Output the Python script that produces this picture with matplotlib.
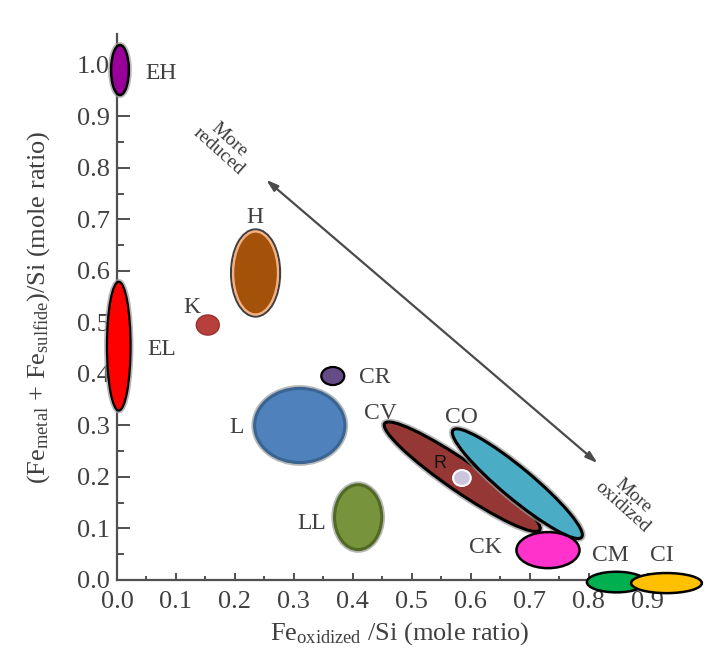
import matplotlib
matplotlib.use("Agg")
import numpy as np
import matplotlib.pyplot as plt
from matplotlib.patches import Ellipse
from matplotlib.transforms import Affine2D
import matplotlib.patheffects as pe

plt.rcParams['font.family'] = ['Liberation Serif', 'DejaVu Serif']
plt.rcParams['mathtext.fontset'] = 'custom'
plt.rcParams['mathtext.rm'] = 'Liberation Serif'
plt.rcParams['mathtext.it'] = 'Liberation Serif:italic'

TEXT = '#404040'
AXIS = '#505050'

# Chondrite groups drawn as axis-aligned ellipses:
# centre x, centre y, width (x units), height (y units)
aligned_names = ['EH', 'EL', 'K', 'H', 'CR', 'L', 'LL', 'CK', 'CM', 'CI', 'R']
aligned_cx = [0.005, 0.003, 0.154, 0.235, 0.366, 0.310, 0.409, 0.731, 0.847, 0.932, 0.585]
aligned_cy = [0.990, 0.454, 0.495, 0.596, 0.396, 0.300, 0.122, 0.058, -0.004, -0.006, 0.198]
aligned_w = [0.030, 0.040, 0.039, 0.076, 0.039, 0.153, 0.080, 0.107, 0.100, 0.120, 0.030]
aligned_h = [0.097, 0.250, 0.039, 0.161, 0.035, 0.144, 0.126, 0.070, 0.040, 0.039, 0.031]

# Elongated groups: end points of the long axis and thickness (x units)
tilted_names = ['CV', 'CO']
tilted_x1 = [0.454, 0.570]
tilted_y1 = [0.304, 0.291]
tilted_x2 = [0.717, 0.788]
tilted_y2 = [0.097, 0.083]
tilted_t = [0.052, 0.052]

styles = {
    'EH': dict(fc='#990099', ec='black', lw=1.8, halo=True),
    'EL': dict(fc='#FF0000', ec='black', lw=1.6, halo=True),
    'K':  dict(fc='#B8403C', ec='#9A3030', lw=1.0, halo=False),
    'H':  dict(fc='#A4520A', ec='#F4B183', lw=1.6, halo=True),
    'CR': dict(fc='#654C86', ec='black', lw=1.6, halo=False),
    'L':  dict(fc='#4F81BD', ec='#3A6593', lw=2.2, halo=True),
    'LL': dict(fc='#77933C', ec='#506A26', lw=2.2, halo=True),
    'CV': dict(fc='#953735', ec='black', lw=2.2, halo=True),
    'CO': dict(fc='#4BACC6', ec='black', lw=2.2, halo=True),
    'CK': dict(fc='#FF33CC', ec='black', lw=1.8, halo=False),
    'CM': dict(fc='#00B050', ec='black', lw=1.8, halo=False),
    'CI': dict(fc='#FFC000', ec='black', lw=1.8, halo=False),
    'R':  dict(fc='#CDC4DD', ec='white', lw=1.5, halo=False),
}
zorders = {'CV': 3, 'CO': 4, 'R': 6, 'CK': 5, 'CM': 3, 'CI': 4}

# Group labels
label_names = ['EH', 'EL', 'K', 'H', 'CR', 'L', 'LL', 'CV', 'CO', 'CK', 'CM', 'CI']
label_x = [0.075, 0.076, 0.127, 0.234, 0.437, 0.203, 0.330, 0.446, 0.585, 0.624, 0.836, 0.924]
label_y = [0.983, 0.447, 0.530, 0.703, 0.394, 0.297, 0.110, 0.324, 0.315, 0.064, 0.048, 0.048]

x_ticks = [0.0, 0.1, 0.2, 0.3, 0.4, 0.5, 0.6, 0.7, 0.8, 0.9]
y_ticks = [0.0, 0.1, 0.2, 0.3, 0.4, 0.5, 0.6, 0.7, 0.8, 0.9, 1.0]

# Redox trend arrow (reduced end, oxidized end)
arrow_start = (0.253, 0.777)
arrow_end = (0.815, 0.227)

fig = plt.figure(figsize=(7.1, 6.68), dpi=100)
ax = fig.add_axes([117 / 710, 88 / 668, 566 / 710, 546 / 668])
ax.set_xlim(0, 0.96)
ax.set_ylim(0, 1.06)

# ratio of pixels per y unit to pixels per x unit, so shapes can be built
# in a space where both directions share the same scale
bb = ax.get_position()
px_x = bb.width * fig.get_figwidth() / 0.96
px_y = bb.height * fig.get_figheight() / 1.06
r = px_y / px_x
to_data = Affine2D().scale(1, 1 / r) + ax.transData


def draw(ell, st, z):
    ell.set_transform(to_data)
    ell.set_facecolor(st['fc'])
    ell.set_edgecolor(st['ec'])
    ell.set_linewidth(st['lw'])
    ell.set_zorder(z)
    ell.set_clip_on(False)
    if st['halo']:
        ell.set_path_effects([pe.withStroke(linewidth=st['lw'] + 2.5, foreground='#9a9a9a', alpha=0.7)])
    if st['ec'] == '#F4B183':
        ell.set_path_effects([pe.withStroke(linewidth=st['lw'] + 3.0, foreground='#404040'), pe.Normal()])
    ax.add_patch(ell)


for n, cx, cy, w, h in zip(aligned_names, aligned_cx, aligned_cy, aligned_w, aligned_h):
    e = Ellipse((cx, cy * r), w, h * r)
    draw(e, styles[n], zorders.get(n, 3))

for n, x1, y1, x2, y2, t in zip(tilted_names, tilted_x1, tilted_y1, tilted_x2, tilted_y2, tilted_t):
    v1, v2 = y1 * r, y2 * r
    length = np.hypot(x2 - x1, v2 - v1)
    ang = np.degrees(np.arctan2(v2 - v1, x2 - x1))
    e = Ellipse(((x1 + x2) / 2, (v1 + v2) / 2), length, t, angle=ang)
    draw(e, styles[n], zorders.get(n, 3))

for n, x, y in zip(label_names, label_x, label_y):
    ax.text(x, y, n, fontsize=17, color=TEXT, ha='center', va='center', zorder=7)

ax.text(0.547, 0.227, 'R', fontsize=13, family='Liberation Sans', color='#111111',
        ha='center', va='center', zorder=7)

ax.annotate('', xy=arrow_start, xytext=arrow_end,
            arrowprops=dict(arrowstyle='<|-|>,head_length=0.7,head_width=0.22',
                            color='#4a4a4a', lw=1.6, shrinkA=0, shrinkB=0))
ax.text(0.182, 0.843, 'More\nreduced', fontsize=14, color='#3a3a3a', rotation=-42,
        ha='center', va='center', linespacing=0.9, rotation_mode='anchor')
ax.text(0.866, 0.153, 'More\noxidized', fontsize=14, color='#3a3a3a', rotation=-42,
        ha='center', va='center', linespacing=0.9, rotation_mode='anchor')

for s in ['top', 'right']:
    ax.spines[s].set_visible(False)
for s in ['left', 'bottom']:
    ax.spines[s].set_color(AXIS)
    ax.spines[s].set_linewidth(1.6)

ax.set_xticks(x_ticks)
ax.set_xticklabels([f'{v:.1f}' for v in x_ticks])
ax.set_yticks(y_ticks)
ax.set_yticklabels([f'{v:.1f}' for v in y_ticks])
ax.set_xticks(np.arange(0.05, 0.96, 0.1), minor=True)
ax.set_yticks(np.arange(0.05, 1.0, 0.1), minor=True)
ax.tick_params(axis='x', which='major', direction='in', length=5, width=1.4, color=AXIS,
               labelsize=19, labelcolor=TEXT, pad=8)
ax.tick_params(axis='x', which='minor', direction='in', length=3, width=1.4, color=AXIS)
ax.tick_params(axis='y', which='major', direction='in', length=9, width=1.4, color=AXIS,
               labelsize=19, labelcolor=TEXT, pad=5)
ax.tick_params(axis='y', which='minor', direction='in', length=5, width=1.4, color=AXIS)

ax.set_xlabel(r'Fe$_\mathregular{oxidized}$ /Si (mole ratio)', fontsize=19, color=TEXT, labelpad=5)
ax.set_ylabel(r'(Fe$_\mathregular{metal}$ + Fe$_\mathregular{sulfide}$)/Si (mole ratio)',
              fontsize=19, color=TEXT, labelpad=18)

fig.savefig('out.png', dpi=100, facecolor='white')
